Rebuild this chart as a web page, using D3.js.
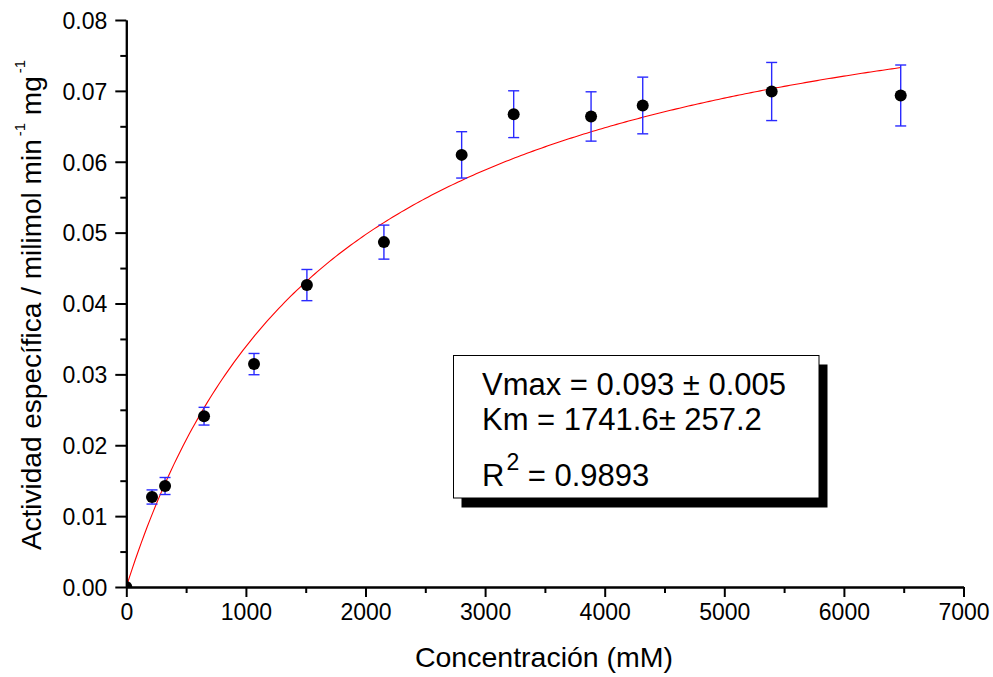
<!DOCTYPE html>
<html>
<head>
<meta charset="utf-8">
<script src="https://cdn.jsdelivr.net/npm/d3@7/dist/d3.min.js"></script>
<style>
  html, body { margin: 0; padding: 0; background: #fff; }
  svg { display: block; font-family: "Liberation Sans", Arial, sans-serif; }
</style>
</head>
<body>
<svg id="chart" width="993" height="677"></svg>
<script>
// ---- data ----
const concentration = [0, 215, 324, 650, 1068, 1510, 2154, 2804, 3239, 3886, 4318, 5396, 6475];
const activity = [0, 0.0127, 0.01425, 0.0241, 0.03145, 0.0426, 0.04866, 0.06097, 0.06671, 0.06639, 0.06794, 0.06991, 0.06935];
const activityError = [0, 0.0010, 0.0012, 0.00125, 0.0015, 0.0022, 0.0024, 0.00327, 0.0033, 0.00348, 0.0040, 0.0041, 0.0043];
const xTicks = [0, 1000, 2000, 3000, 4000, 5000, 6000, 7000];
const yTicks = [0, 0.01, 0.02, 0.03, 0.04, 0.05, 0.06, 0.07, 0.08];
// Michaelis-Menten fit parameters shown in the chart
const fitVmax = 0.093;
const fitKm = 1741.6;
const fitLines = ["Vmax = 0.093 \u00B1 0.005", "Km = 1741.6\u00B1 257.2"];
const fitR2 = "0.9893";

const svg = d3.select("#chart");
const x = d3.scaleLinear().domain([0, 7000]).range([126.3, 963.5]);
const y = d3.scaleLinear().domain([0, 0.08]).range([587, 20]);

// clip to plot area
svg.append("defs").append("clipPath").attr("id", "plotclip")
  .append("rect").attr("x", x(0)).attr("y", y(0.08) - 20)
  .attr("width", x(7000) - x(0) + 20).attr("height", y(0) - y(0.08) + 20);

// ---- fit curve ----
const fitX = d3.range(0, concentration[concentration.length - 1] + 1, 25);
if (fitX[fitX.length - 1] !== concentration[concentration.length - 1]) fitX.push(concentration[concentration.length - 1]);
const line = d3.line().x(d => x(d)).y(d => y(fitVmax * d / (fitKm + d)));
svg.append("path").datum(fitX)
  .attr("d", line).attr("fill", "none").attr("stroke", "#ff0000").attr("stroke-width", 1.1)
  .attr("clip-path", "url(#plotclip)");

// ---- error bars ----
const pts = concentration.map((c, i) => ({ c, v: activity[i], e: activityError[i] }));
const eb = svg.append("g").attr("stroke", "#2a2aff").attr("stroke-width", 1.4).attr("fill", "none");
pts.filter(d => d.e > 0).forEach(d => {
  const cx = x(d.c), y1 = y(d.v + d.e), y2 = y(d.v - d.e);
  eb.append("line").attr("x1", cx).attr("x2", cx).attr("y1", y1).attr("y2", y2);
  eb.append("line").attr("x1", cx - 5.5).attr("x2", cx + 5.5).attr("y1", y1).attr("y2", y1);
  eb.append("line").attr("x1", cx - 5.5).attr("x2", cx + 5.5).attr("y1", y2).attr("y2", y2);
});

// ---- points ----
svg.append("g").attr("clip-path", "url(#plotclip)")
  .selectAll("circle").data(pts).join("circle")
  .attr("cx", d => x(d.c)).attr("cy", d => y(d.v)).attr("r", 6).attr("fill", "#000");

// ---- axes ----
const tickFont = "23px";
const yAxis = svg.append("g").attr("transform", `translate(${x(0)},0)`)
  .call(d3.axisLeft(y).tickValues(yTicks).tickFormat(d3.format(".2f")).tickSize(11).tickSizeOuter(0).tickPadding(8));
const xAxis = svg.append("g").attr("transform", `translate(0,${y(0)})`)
  .call(d3.axisBottom(x).tickValues(xTicks).tickFormat(d3.format("d")).tickSize(10).tickSizeOuter(0).tickPadding(7));
const yMinor = svg.append("g").attr("transform", `translate(${x(0)},0)`)
  .call(d3.axisLeft(y).tickValues(d3.range(0.005, 0.08, 0.01)).tickFormat("").tickSize(6).tickSizeOuter(0));
const xMinor = svg.append("g").attr("transform", `translate(0,${y(0)})`)
  .call(d3.axisBottom(x).tickValues(d3.range(500, 7000, 1000)).tickFormat("").tickSize(6).tickSizeOuter(0));
[yAxis, xAxis, yMinor, xMinor].forEach(g => {
  g.select(".domain").attr("stroke", "#000").attr("stroke-width", 2);
  g.selectAll(".tick line").attr("stroke", "#000").attr("stroke-width", 2);
  g.selectAll(".tick text").attr("fill", "#000")
    .style("font-size", tickFont).style("font-family", "'Liberation Sans', Arial, sans-serif");
});
yAxis.selectAll(".tick text").attr("dy", "0.36em");

// ---- axis titles ----
svg.append("text").attr("x", 544).attr("y", 667).attr("text-anchor", "middle")
  .style("font-size", "28.5px").text("Concentraci\u00F3n (mM)");

const yl = svg.append("text").attr("transform", "translate(41,305) rotate(-90)")
  .attr("text-anchor", "middle").style("font-size", "28px");
yl.append("tspan").text("Actividad espec\u00EDfica / milimol min");
yl.append("tspan").attr("dy", -16).attr("dx", 3).style("font-size", "15px").text("-1");
yl.append("tspan").attr("dy", 16).text(" mg");
yl.append("tspan").attr("dy", -16).attr("dx", 3).style("font-size", "15px").text("-1");

// ---- parameter box ----
const box = svg.append("g");
box.append("rect").attr("x", 461.5).attr("y", 364.5).attr("width", 366).attr("height", 143).attr("fill", "#000");
box.append("rect").attr("x", 453.5).attr("y", 355.5).attr("width", 365.5).attr("height", 142.5)
  .attr("fill", "#fff").attr("stroke", "#000").attr("stroke-width", 1);
const bt = box.append("g").style("font-size", "31px");
bt.append("text").attr("x", 482).attr("y", 395).text(fitLines[0]);
bt.append("text").attr("x", 482).attr("y", 430).text(fitLines[1]);
const r2 = bt.append("text").attr("x", 482).attr("y", 486);
r2.append("tspan").text("R");
r2.append("tspan").attr("dy", -16).attr("dx", 2).style("font-size", "23px").text("2");
r2.append("tspan").attr("dy", 16).text(" = " + fitR2);
</script>
</body>
</html>
